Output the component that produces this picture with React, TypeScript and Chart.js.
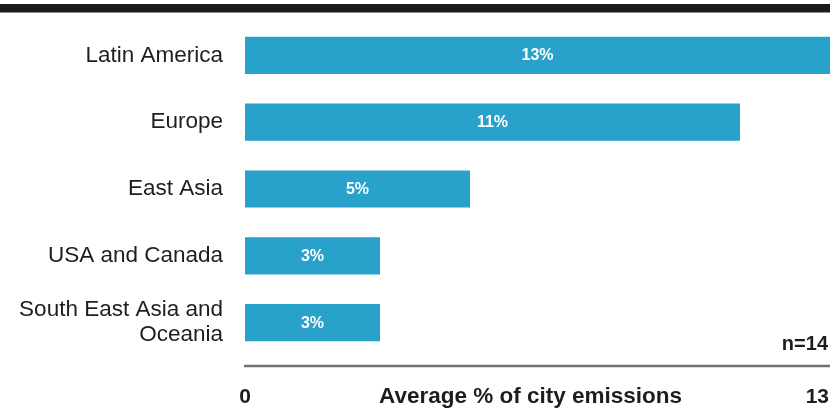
import React, { useEffect, useRef } from 'react';
import { Chart, registerables } from 'chart.js';

Chart.register(...registerables);

const categories: (string | string[])[] = [
  'Latin America',
  'Europe',
  'East Asia',
  'USA and Canada',
  ['South East Asia and', 'Oceania'],
];
const values = [13, 11, 5, 3, 3];
const axisMin = 0;
const axisMax = 13;
const tickLabels = ['0', '13'];
const axisTitle = 'Average % of city emissions';
const sampleNote = 'n=14';

const FONT = '"Liberation Sans", Arial, Helvetica, sans-serif';
const BAR_COLOR = '#28a2ca';
const TEXT_COLOR = '#1e1e1e';

const decorPlugin = {
  id: 'decor',
  afterDatasetsDraw(chart: any) {
    const { ctx } = chart;
    const meta = chart.getDatasetMeta(0);
    ctx.save();
    ctx.font = `bold 16px ${FONT}`;
    ctx.fillStyle = '#ffffff';
    ctx.textAlign = 'center';
    ctx.textBaseline = 'middle';
    meta.data.forEach((bar: any, i: number) => {
      const p = bar.getProps(['x', 'base', 'y'], true);
      ctx.fillText(`${values[i]}%`, (p.x + p.base) / 2, p.y + 0.5);
    });
    ctx.restore();
  },
  afterDraw(chart: any) {
    const { ctx, chartArea } = chart;
    const x = chart.scales.x;
    ctx.save();
    // top rule
    ctx.fillStyle = '#1b1b1b';
    ctx.fillRect(0, 4, chart.width, 8.5);
    // axis line
    const axisY = chartArea.bottom + 10;
    ctx.strokeStyle = '#6f6f6f';
    ctx.lineWidth = 2.5;
    ctx.beginPath();
    ctx.moveTo(x.getPixelForValue(axisMin) - 1, axisY);
    ctx.lineTo(x.getPixelForValue(axisMax), axisY);
    ctx.stroke();
    // tick labels and title
    const baseY = chartArea.bottom + 47;
    ctx.fillStyle = TEXT_COLOR;
    ctx.textBaseline = 'alphabetic';
    ctx.font = `bold 21px ${FONT}`;
    ctx.textAlign = 'center';
    ctx.fillText(tickLabels[0], x.getPixelForValue(axisMin), baseY);
    ctx.textAlign = 'right';
    ctx.fillText(tickLabels[1], x.getPixelForValue(axisMax) - 1, baseY);
    ctx.font = `bold 22.5px ${FONT}`;
    ctx.textAlign = 'center';
    ctx.fillText(axisTitle, (x.left + x.right) / 2 - 7, baseY);
    // sample note
    ctx.font = `bold 20px ${FONT}`;
    ctx.textAlign = 'right';
    ctx.fillText(sampleNote, chartArea.right - 2, chartArea.bottom - 6);
    ctx.restore();
  },
};

export default function App() {
  const canvasRef = useRef<HTMLCanvasElement | null>(null);

  useEffect(() => {
    if (!canvasRef.current) return;
    const chart = new Chart(canvasRef.current, {
      type: 'bar',
      data: {
        labels: categories as any,
        datasets: [
          {
            data: values,
            backgroundColor: BAR_COLOR,
            borderWidth: 0,
            barPercentage: 0.557,
            categoryPercentage: 1,
          },
        ],
      },
      options: {
        indexAxis: 'y',
        animation: false,
        responsive: true,
        maintainAspectRatio: false,
        layout: { padding: { top: 22, bottom: 53, left: 0, right: 0 } },
        plugins: {
          legend: { display: false },
          tooltip: { enabled: false },
        },
        scales: {
          x: {
            display: false,
            min: axisMin,
            max: axisMax,
          },
          y: {
            grid: { display: false, drawTicks: false },
            border: { display: false },
            ticks: {
              padding: 22,
              color: TEXT_COLOR,
              font: { family: FONT, size: 22.5, lineHeight: 1.1 },
            },
            afterFit(scale: any) {
              scale.width = 245;
              scale.paddingTop = 0;
              scale.paddingBottom = 0;
            },
          },
        },
      },
      plugins: [decorPlugin],
    });
    return () => chart.destroy();
  }, []);

  return (
    <div style={{ position: 'absolute', left: 0, top: 0, width: 830, height: 409, background: '#ffffff' }}>
      <canvas ref={canvasRef} />
    </div>
  );
}
